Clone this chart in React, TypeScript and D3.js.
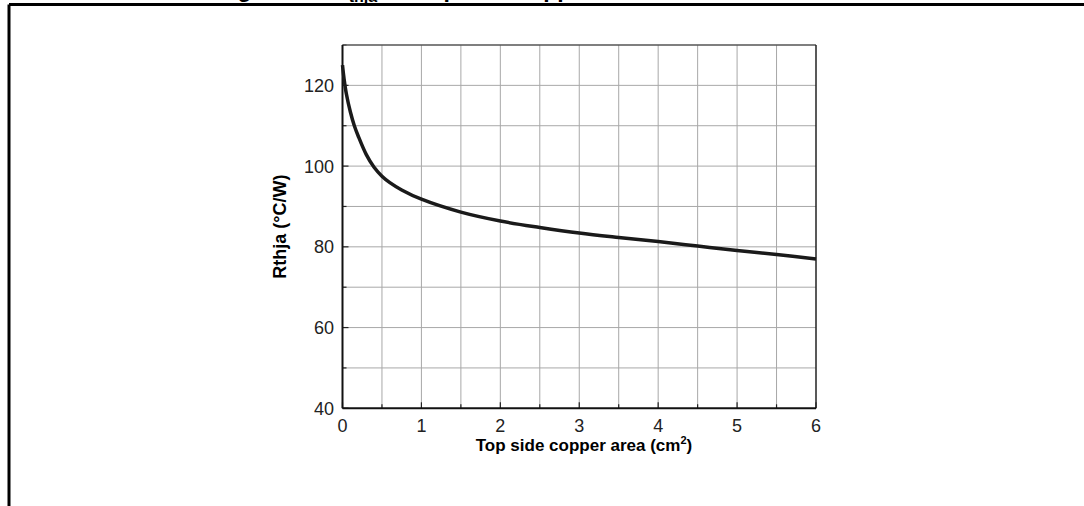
import React from "react";
import * as d3 from "d3";

const xValues = [0, 0.02, 0.05, 0.1, 0.15, 0.2, 0.3, 0.4, 0.5, 0.6, 0.75, 1, 1.5, 2, 2.5, 3, 3.5, 4, 4.5, 5, 5.5, 6];
const rthja = [125, 121.6, 117.8, 113.4, 110, 107.4, 102.9, 99.7, 97.5, 95.9, 94.1, 91.8, 88.6, 86.4, 84.8, 83.4, 82.3, 81.3, 80.2, 79.1, 78.1, 77];
const xTicks = [0, 1, 2, 3, 4, 5, 6];
const yTicks = [40, 60, 80, 100, 120];
const xMinor = [0.5, 1.5, 2.5, 3.5, 4.5, 5.5];
const yMinor = [50, 70, 90, 110, 130];

export default function App() {
  const W = 1084, H = 506;
  const left = 342.5, right = 816, top = 45, bottom = 408.3;
  const x = d3.scaleLinear().domain([0, 6]).range([left, right]);
  const y = d3.scaleLinear().domain([40, 130]).range([bottom, top]);
  const pts = xValues.map((v, i) => [v, rthja[i]] as [number, number]);
  const line = d3.line<[number, number]>().x(d => x(d[0])).y(d => y(d[1])).curve(d3.curveCatmullRom.alpha(0.5));
  const font = "'Liberation Sans', Arial, sans-serif";
  const gridX = [...xTicks, ...xMinor].filter(v => v > 0 && v < 6);
  const gridY = [...yTicks, ...yMinor].filter(v => v > 40 && v < 130);
  return (
    <svg width={W} height={H} style={{ position: "absolute", left: 0, top: 0 }}>
      <rect width={W} height={H} fill="#fff" />
      <text x={217} y={-3} textAnchor="start" fontFamily={font} fontWeight="bold" fontSize={23}>
        Figure 14. R<tspan fontSize={16} dy={5}>thja</tspan><tspan dy={-5}> vs. top side copper area</tspan>
      </text>
      {/* frame */}
      <line x1={9} x2={W} y1={4.5} y2={4.5} stroke="#000" strokeWidth={3} />
      <line x1={9} x2={9} y1={4.5} y2={H} stroke="#000" strokeWidth={3} />
      {/* grid */}
      {gridX.map(v => (
        <line key={"gx" + v} x1={x(v)} x2={x(v)} y1={top} y2={bottom} stroke="#a8a8a8" strokeWidth={1} />
      ))}
      {gridY.map(v => (
        <line key={"gy" + v} x1={left} x2={right} y1={y(v)} y2={y(v)} stroke="#a8a8a8" strokeWidth={1} />
      ))}
      {/* ticks */}
      {[...xTicks, ...xMinor].map(v => (
        <line key={"tx" + v} x1={x(v)} x2={x(v)} y1={bottom} y2={bottom - (xTicks.includes(v) ? 6 : 4)} stroke="#222" strokeWidth={1.2} />
      ))}
      {[...yTicks, ...yMinor].map(v => (
        <line key={"ty" + v} x1={left} x2={left + (yTicks.includes(v) ? 6 : 4)} y1={y(v)} y2={y(v)} stroke="#222" strokeWidth={1.2} />
      ))}
      {/* border */}
      <line x1={left} x2={right} y1={top} y2={top} stroke="#555" strokeWidth={1.5} />
      <line x1={right} x2={right} y1={top} y2={bottom} stroke="#222" strokeWidth={1.5} />
      <line x1={left} x2={left} y1={top} y2={bottom} stroke="#111" strokeWidth={2} />
      <line x1={left} x2={right} y1={bottom} y2={bottom} stroke="#111" strokeWidth={2} />
      {/* curve */}
      <path d={line(pts) || ""} fill="none" stroke="#1a1a1a" strokeWidth={3.5} />
      {/* tick labels */}
      {xTicks.map(v => (
        <text key={"lx" + v} x={x(v)} y={432} textAnchor="middle" fontFamily={font} fontSize={18} fill="#222">{v}</text>
      ))}
      {yTicks.map(v => (
        <text key={"ly" + v} x={334} y={y(v) + 6.5} textAnchor="end" fontFamily={font} fontSize={18} fill="#222">{v}</text>
      ))}
      {/* axis titles */}
      <text x={584} y={451} textAnchor="middle" fontFamily={font} fontWeight="bold" fontSize={17}>
        Top side copper area (cm<tspan fontSize={11} dy={-7}>2</tspan><tspan dy={7}>)</tspan>
      </text>
      <text transform={`translate(286,${(top + bottom) / 2}) rotate(-90)`} textAnchor="middle" fontFamily={font} fontWeight="bold" fontSize={18}>
        Rthja (°C/W)
      </text>
    </svg>
  );
}
